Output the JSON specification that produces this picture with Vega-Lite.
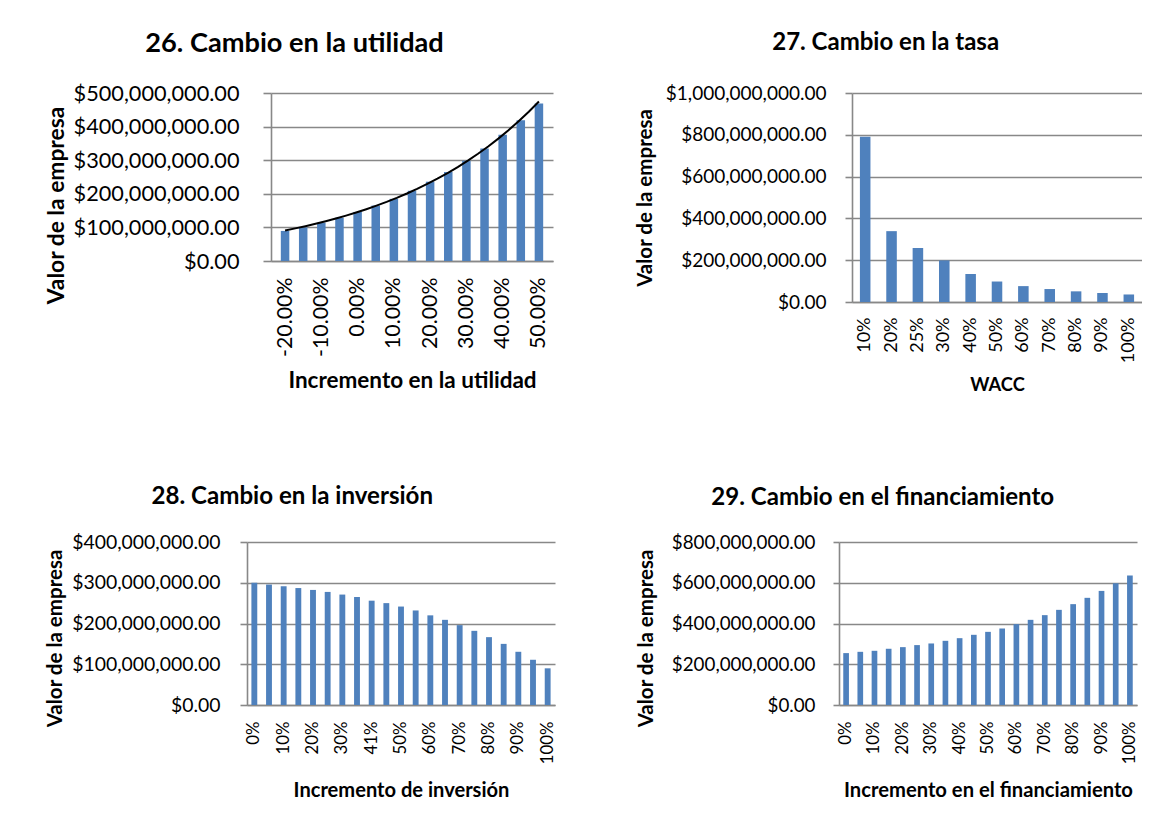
{
  "$schema": "https://vega.github.io/schema/vega-lite/v6.json",
  "background": "white",
  "padding": {"left": 44, "top": 29, "right": 0, "bottom": 0},
  "config": {
    "font": "Lato",
    "view": {"stroke": null},
    "axis": {
      "labelColor": "#000000", "titleColor": "#000000",
      "labelFont": "Lato", "titleFont": "Lato", "titleFontWeight": "bold",
      "domainColor": "#888888", "domainWidth": 1.6,
      "tickColor": "#888888", "tickWidth": 1.6,
      "gridColor": "#888888", "gridWidth": 1.6, "gridOpacity": 1,
      "labelOverlap": false
    },
    "title": {"color": "#000000", "fontWeight": "bold", "anchor": "middle", "frame": "bounds", "font": "Lato"}
  },
  "spacing": 91,
  "vconcat": [
    {
      "spacing": 0,
      "hconcat": [
        {"width": 1, "height": 1, "data": {"values": []}, "mark": {"type": "point", "opacity": 0}, "encoding": {}},
        {
          "spacing": 82,
          "hconcat": [
            {
              "width": 282, "height": 168,
              "title": {"text": "26. Cambio en la utilidad", "fontSize": 27.2, "offset": 25, "dx": -4.5},
              "data": {"values": [
                {"incremento": -20, "valor": 89500000},
                {"incremento": -15, "valor": 100000000},
                {"incremento": -10, "valor": 114000000},
                {"incremento": -5, "valor": 129000000},
                {"incremento": 0, "valor": 146000000},
                {"incremento": 5, "valor": 165000000},
                {"incremento": 10, "valor": 185000000},
                {"incremento": 15, "valor": 209000000},
                {"incremento": 20, "valor": 236000000},
                {"incremento": 25, "valor": 265000000},
                {"incremento": 30, "valor": 298000000},
                {"incremento": 35, "valor": 335000000},
                {"incremento": 40, "valor": 376000000},
                {"incremento": 45, "valor": 419000000},
                {"incremento": 50, "valor": 469000000}
              ]},
              "encoding": {
                "x": {"field": "incremento", "type": "quantitative",
                  "scale": {"domain": [-22.5, 52.5], "nice": false, "zero": false},
                  "axis": {"values": [-20, -10, 0, 10, 20, 30, 40, 50],
                    "labelExpr": "(datum.value < 0 ? '-' : '') + format(abs(datum.value) / 100, '.2%')",
                    "labelAngle": -90, "labelFontSize": 21.3, "labelPadding": 16,
                    "ticks": false, "tickSize": 0, "grid": false,
                    "title": "Incremento en la utilidad", "titleFontSize": 22.5, "titlePadding": 13.5}},
                "y": {"field": "valor", "type": "quantitative",
                  "scale": {"domain": [0, 500000000], "nice": false},
                  "axis": {"values": [0, 100000000, 200000000, 300000000, 400000000, 500000000],
                    "format": "$,.2f", "labelFontSize": 21.7, "labelPadding": 24, "tickSize": 8,
                    "title": "Valor de la empresa", "titleFontSize": 22.8, "titlePadding": 5, "titleY": 112}}
              },
              "layer": [
                {"mark": {"type": "bar", "size": 8.5, "color": "#4F81BD"}},
                {
                  "transform": [{"regression": "valor", "on": "incremento", "method": "exp"}],
                  "mark": {"type": "line", "color": "#000000", "strokeWidth": 2}
                }
              ]
            },
            {
              "width": 290, "height": 209,
              "title": {"text": "27. Cambio en la tasa", "fontSize": 24, "offset": 29, "dx": -3},
              "data": {"values": [
                {"wacc": "10%", "valor": 791000000},
                {"wacc": "20%", "valor": 339000000},
                {"wacc": "25%", "valor": 258000000},
                {"wacc": "30%", "valor": 199000000},
                {"wacc": "40%", "valor": 134000000},
                {"wacc": "50%", "valor": 98000000},
                {"wacc": "60%", "valor": 76000000},
                {"wacc": "70%", "valor": 62000000},
                {"wacc": "80%", "valor": 51000000},
                {"wacc": "90%", "valor": 43000000},
                {"wacc": "100%", "valor": 36000000}
              ]},
              "mark": {"type": "bar", "color": "#4F81BD"},
              "encoding": {
                "x": {"field": "wacc", "type": "ordinal", "sort": null,
                  "scale": {"paddingInner": 0.6, "paddingOuter": 0.3},
                  "axis": {"labelAngle": -90, "labelFontSize": 18, "labelPadding": 15,
                    "ticks": false, "tickSize": 0, "grid": false,
                    "title": "WACC", "titleFontSize": 18.3, "titlePadding": 13.5}},
                "y": {"field": "valor", "type": "quantitative",
                  "scale": {"domain": [0, 1000000000], "nice": false},
                  "axis": {"values": [0, 200000000, 400000000, 600000000, 800000000, 1000000000],
                    "format": "$,.2f", "labelFontSize": 19, "labelPadding": 19, "tickSize": 7,
                    "title": "Valor de la empresa", "titleFontSize": 20.5, "titlePadding": 10}}
              }
            }
          ]
        }
      ]
    },
    {
      "spacing": 0,
      "hconcat": [
        {"width": 1, "height": 1, "data": {"values": []}, "mark": {"type": "point", "opacity": 0}, "encoding": {}},
        {
          "spacing": 80,
          "hconcat": [
            {
              "width": 308, "height": 163,
              "title": {"text": "28. Cambio en la inversión", "fontSize": 24.1, "offset": 22.5, "dx": -8.5},
              "data": {"values": [
                {"inversion": "0%", "valor": 300000000},
                {"inversion": "5%", "valor": 295500000},
                {"inversion": "10%", "valor": 291400000},
                {"inversion": "15%", "valor": 287000000},
                {"inversion": "20%", "valor": 282400000},
                {"inversion": "25%", "valor": 277500000},
                {"inversion": "30%", "valor": 271000000},
                {"inversion": "35%", "valor": 265000000},
                {"inversion": "41%", "valor": 256000000},
                {"inversion": "45%", "valor": 250000000},
                {"inversion": "50%", "valor": 241600000},
                {"inversion": "55%", "valor": 232000000},
                {"inversion": "60%", "valor": 220000000},
                {"inversion": "65%", "valor": 209000000},
                {"inversion": "70%", "valor": 196000000},
                {"inversion": "75%", "valor": 182000000},
                {"inversion": "80%", "valor": 166500000},
                {"inversion": "85%", "valor": 150000000},
                {"inversion": "90%", "valor": 130600000},
                {"inversion": "95%", "valor": 111000000},
                {"inversion": "100%", "valor": 90000000}
              ]},
              "mark": {"type": "bar", "color": "#4F81BD"},
              "encoding": {
                "x": {"field": "inversion", "type": "ordinal", "sort": null,
                  "scale": {"paddingInner": 0.6, "paddingOuter": 0.3},
                  "axis": {"values": ["0%", "10%", "20%", "30%", "41%", "50%", "60%", "70%", "80%", "90%", "100%"],
                    "labelAngle": -90, "labelFontSize": 16.8, "labelPadding": 16,
                    "ticks": false, "tickSize": 0, "grid": false,
                    "title": "Incremento de inversión", "titleFontSize": 20.1, "titlePadding": 16.5}},
                "y": {"field": "valor", "type": "quantitative",
                  "scale": {"domain": [0, 400000000], "nice": false},
                  "axis": {"values": [0, 100000000, 200000000, 300000000, 400000000],
                    "format": "$,.2f", "labelFontSize": 19.4, "labelPadding": 20, "tickSize": 7,
                    "title": "Valor de la empresa", "titleFontSize": 20.5, "titlePadding": 6, "titleY": 96}}
              }
            },
            {
              "width": 298, "height": 163,
              "title": {"text": "29. Cambio en el financiamiento", "fontSize": 24.05, "offset": 23.4, "dx": -4.5},
              "data": {"values": [
                {"financiamiento": "0%", "valor": 254700000},
                {"financiamiento": "5%", "valor": 261000000},
                {"financiamiento": "10%", "valor": 266000000},
                {"financiamiento": "15%", "valor": 276000000},
                {"financiamiento": "20%", "valor": 284000000},
                {"financiamiento": "25%", "valor": 294000000},
                {"financiamiento": "30%", "valor": 302000000},
                {"financiamiento": "35%", "valor": 315000000},
                {"financiamiento": "40%", "valor": 328000000},
                {"financiamiento": "45%", "valor": 344500000},
                {"financiamiento": "50%", "valor": 359000000},
                {"financiamiento": "55%", "valor": 375500000},
                {"financiamiento": "60%", "valor": 397000000},
                {"financiamiento": "65%", "valor": 418000000},
                {"financiamiento": "70%", "valor": 441000000},
                {"financiamiento": "75%", "valor": 467000000},
                {"financiamiento": "80%", "valor": 495000000},
                {"financiamiento": "85%", "valor": 526000000},
                {"financiamiento": "90%", "valor": 560000000},
                {"financiamiento": "95%", "valor": 597500000},
                {"financiamiento": "100%", "valor": 635000000}
              ]},
              "mark": {"type": "bar", "color": "#4F81BD"},
              "encoding": {
                "x": {"field": "financiamiento", "type": "ordinal", "sort": null,
                  "scale": {"paddingInner": 0.6, "paddingOuter": 0.3},
                  "axis": {"values": ["0%", "10%", "20%", "30%", "40%", "50%", "60%", "70%", "80%", "90%", "100%"],
                    "labelAngle": -90, "labelFontSize": 16.8, "labelPadding": 16,
                    "ticks": false, "tickSize": 0, "grid": false,
                    "title": "Incremento en el financiamiento", "titleFontSize": 20.2, "titlePadding": 16.5}},
                "y": {"field": "valor", "type": "quantitative",
                  "scale": {"domain": [0, 800000000], "nice": false},
                  "axis": {"values": [0, 200000000, 400000000, 600000000, 800000000],
                    "format": "$,.2f", "labelFontSize": 18.8, "labelPadding": 18, "tickSize": 6,
                    "title": "Valor de la empresa", "titleFontSize": 20.5, "titlePadding": 15, "titleY": 96}}
              }
            }
          ]
        }
      ]
    }
  ]
}
